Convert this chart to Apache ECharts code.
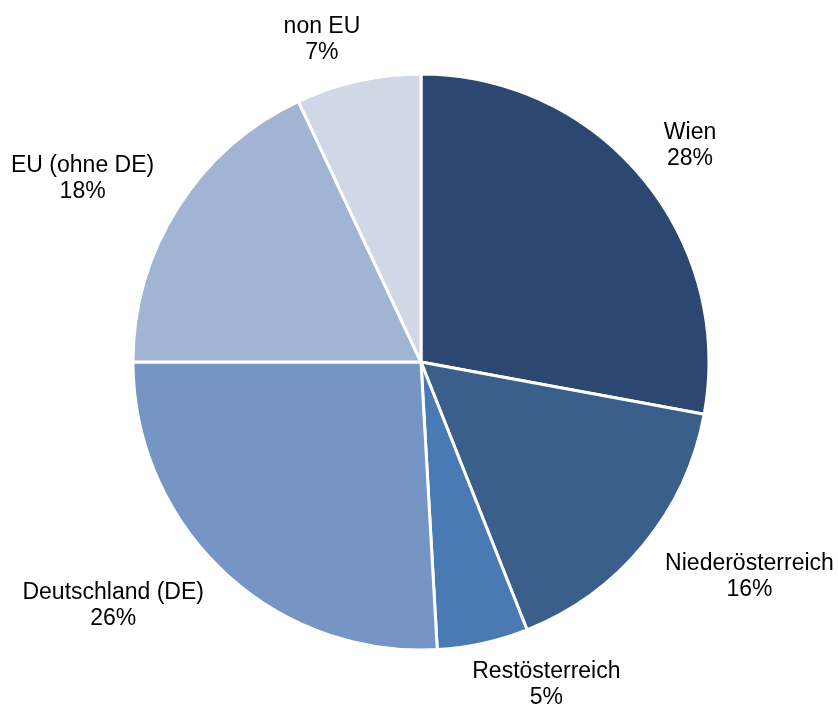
<!DOCTYPE html>
<html>
<head>
<meta charset="utf-8">
<script src="https://cdn.jsdelivr.net/npm/echarts@6/dist/echarts.min.js"></script>
<style>
html,body{margin:0;padding:0;background:#fff;}
#chart{width:838px;height:709px;}
</style>
</head>
<body>
<div id="chart"></div>
<script>
const categories = ['Wien', 'Niederösterreich', 'Restösterreich', 'Deutschland (DE)', 'EU (ohne DE)', 'non EU'];
const values = [27.9, 16.1, 5.1, 25.9, 18.0, 7.0];
const percentLabels = ['28%', '16%', '5%', '26%', '18%', '7%'];
const colors = ['#2C4770', '#3A5F8B', '#4A7AB3', '#7595C5', '#A2B4D4', '#D0D8E7'];

const CX = 421, CY = 362, R = 288, GAP = 28;
const total = values.reduce((a, b) => a + b, 0);
const midAngles = [];
let acc = 0;
values.forEach(v => { midAngles.push((acc + v / 2) / total * 2 * Math.PI); acc += v; });

const chart = echarts.init(document.getElementById('chart'));
chart.setOption({
  backgroundColor: '#fff',
  animation: false,
  series: [{
    type: 'pie',
    center: [CX, CY],
    radius: [0, R],
    startAngle: 90,
    clockwise: true,
    avoidLabelOverlap: false,
    itemStyle: { borderColor: '#fff', borderWidth: 3 },
    label: {
      show: true,
      position: 'outside',
      formatter: p => p.name + '\n' + percentLabels[p.dataIndex],
      fontFamily: 'Liberation Sans, Arial, sans-serif',
      fontSize: 23,
      lineHeight: 26,
      color: '#000',
      align: 'center'
    },
    labelLine: { show: false },
    labelLayout: function (params) {
      const i = params.dataIndex;
      const a = midAngles[i];
      const dx = Math.sin(a), dy = -Math.cos(a);
      const w = params.labelRect.width, h = params.labelRect.height;
      const x = CX + (R + GAP) * dx + Math.sign(dx) * (w / 2) * Math.min(1, 3.6 * Math.abs(dx));
      const y = CY + (R + GAP) * dy + Math.sign(dy) * h * 0.27;
      return { x: x, y: y, align: 'center', verticalAlign: 'middle' };
    },
    data: categories.map((c, i) => ({ name: c, value: values[i], itemStyle: { color: colors[i] } }))
  }]
});
</script>
</body>
</html>
